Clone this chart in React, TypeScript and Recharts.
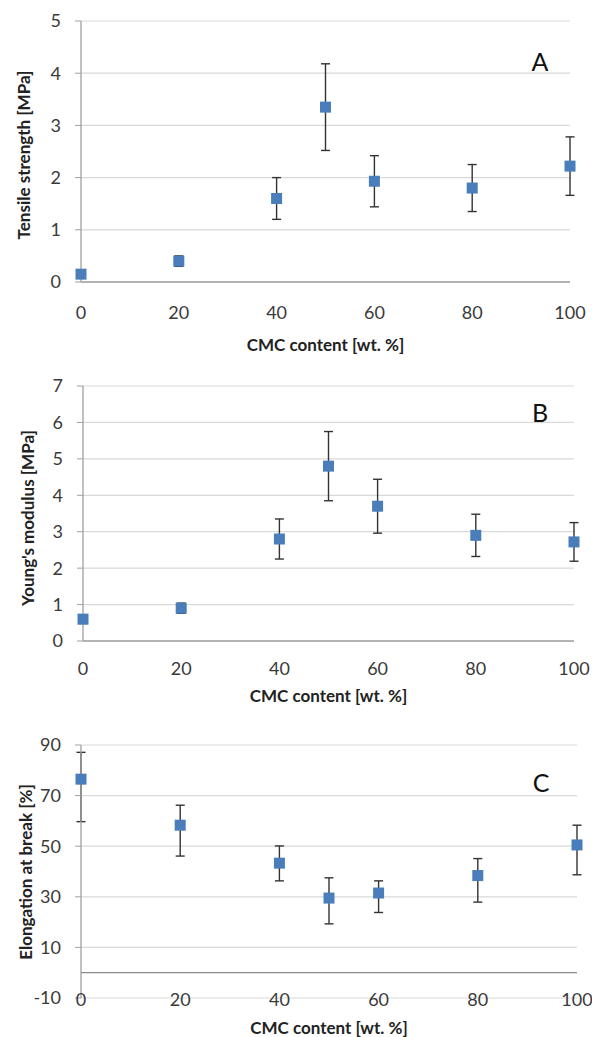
import {
  ScatterChart,
  Scatter,
  XAxis,
  YAxis,
  CartesianGrid,
  ErrorBar,
  ReferenceLine,
  Label,
} from 'recharts'

// CMC content of the films [wt. %]
const cmcContent = [0, 20, 40, 50, 60, 80, 100]
const xTicks = [0, 20, 40, 60, 80, 100]

// A - tensile strength [MPa]
const tensileStrength = [0.15, 0.4, 1.6, 3.35, 1.93, 1.8, 2.22]
const tensileError = [0.06, 0.1, 0.4, 0.83, 0.49, 0.45, 0.56]
const tensileTicks = [0, 1, 2, 3, 4, 5]

// B - Young's modulus [MPa]
const youngsModulus = [0.6, 0.9, 2.8, 4.8, 3.7, 2.9, 2.72]
const youngsError = [0.12, 0.14, 0.55, 0.95, 0.74, 0.58, 0.53]
const youngsTicks = [0, 1, 2, 3, 4, 5, 6, 7]

// C - elongation at break [%], error bars are not symmetric
const elongation = [76.5, 58.3, 43.3, 29.5, 31.5, 38.4, 50.5]
const elongationErrLow = [16.8, 12.2, 7, 10.2, 7.7, 10.5, 11.8]
const elongationErrHigh = [10.6, 7.9, 6.8, 8, 4.8, 6.7, 7.8]
const elongationTicks = [-10, 10, 30, 50, 70, 90]

const FONT = 'Lato, "Open Sans", sans-serif'
const BLUE = '#4a7ebb'
const AXIS = '#a0a0a0'

type Point = { x: number; y: number; err: number | number[] }

const Square = (props: any) => {
  const { cx, cy } = props
  if (cx == null || cy == null) return null
  return <rect x={cx - 5.5} y={cy - 5.5} width={11} height={11} fill={BLUE} />
}

const makeXTick = (dy: number) => (props: any) => (
  <text
    x={props.x}
    y={props.y + dy}
    textAnchor="middle"
    dominantBaseline="central"
    fill="#3a3a3a"
    fontSize={18}
    fontFamily={FONT}
  >
    {props.payload.value}
  </text>
)

interface PanelProps {
  top: number
  height: number
  plotTop: number
  plotLeft: number
  plotRight: number
  xAxisHeight: number
  points: Point[]
  yDomain: [number, number]
  yTicks: number[]
  yTitle: string
  yTitleX: number
  yTitleY: number
  xTickDy: number
  xTitleDy: number
  letter: string
  letterX: number
  letterY: number
  zeroLine?: boolean
}

function Panel(p: PanelProps) {
  return (
    <div style={{ position: 'absolute', left: 0, top: p.top }}>
      <ScatterChart
        width={592}
        height={p.height}
        margin={{ top: p.plotTop, right: 592 - p.plotRight, left: 0, bottom: 0 }}
      >
        <CartesianGrid vertical={false} stroke="#d9d9d9" strokeWidth={1.2} />
        <XAxis
          type="number"
          dataKey="x"
          domain={[0, 100]}
          ticks={xTicks}
          height={p.xAxisHeight}
          axisLine={p.zeroLine ? false : { stroke: AXIS, strokeWidth: 1.3 }}
          tickLine={false}
          tickSize={0}
          tickMargin={0}
          tick={makeXTick(p.xTickDy)}
          interval={0}
        >
          <Label
            content={(lp: any) => {
              const vb = lp.viewBox || {}
              return (
                <text
                  x={vb.x + vb.width / 2}
                  y={vb.y + p.xTitleDy}
                  textAnchor="middle"
                  dominantBaseline="central"
                  fontSize={17}
                  fontWeight="bold"
                  fill="#222"
                  fontFamily={FONT}
                >
                  CMC content [wt. %]
                </text>
              )
            }}
          />
        </XAxis>
        <YAxis
          type="number"
          dataKey="y"
          domain={p.yDomain}
          ticks={p.yTicks}
          width={p.plotLeft}
          interval={0}
          axisLine={{ stroke: AXIS, strokeWidth: 1.3 }}
          tickLine={{ stroke: AXIS }}
          tickSize={6}
          tickMargin={14}
          tick={{ fill: '#3a3a3a', fontSize: 18, fontFamily: FONT }}
          allowDataOverflow
        >
          <Label
            content={() => (
              <text
                x={p.yTitleX}
                y={p.yTitleY}
                transform={`rotate(-90, ${p.yTitleX}, ${p.yTitleY})`}
                textAnchor="middle"
                dominantBaseline="central"
                fontSize={17}
                fontWeight="bold"
                fill="#222"
                fontFamily={FONT}
              >
                {p.yTitle}
              </text>
            )}
          />
        </YAxis>
        {p.zeroLine && <ReferenceLine y={0} stroke="#8c8c8c" strokeWidth={1.3} />}
        <Scatter data={p.points} shape={Square} isAnimationActive={false}>
          <ErrorBar dataKey="err" direction="y" width={4.5} stroke="#333" strokeWidth={1.4} />
        </Scatter>
        <text
          x={p.letterX}
          y={p.letterY}
          textAnchor="middle"
          dominantBaseline="central"
          fontSize={25}
          fill="#111"
          fontFamily={FONT}
        >
          {p.letter}
        </text>
      </ScatterChart>
    </div>
  )
}

const tensilePoints: Point[] = cmcContent.map((x, i) => ({ x, y: tensileStrength[i], err: tensileError[i] }))
const youngsPoints: Point[] = cmcContent.map((x, i) => ({ x, y: youngsModulus[i], err: youngsError[i] }))
const elongationPoints: Point[] = cmcContent.map((x, i) => ({
  x,
  y: elongation[i],
  err: [elongationErrLow[i], elongationErrHigh[i]],
}))

export default function App() {
  return (
    <div style={{ position: 'absolute', left: 0, top: 0, width: 592, height: 1037, background: '#fff' }}>
      <Panel
        top={0}
        height={360}
        plotTop={21}
        plotLeft={81}
        plotRight={570}
        xAxisHeight={78}
        points={tensilePoints}
        yDomain={[0, 5]}
        yTicks={tensileTicks}
        yTitle="Tensile strength [MPa]"
        yTitleX={23}
        yTitleY={155}
        xTickDy={30}
        xTitleDy={62}
        letter="A"
        letterX={540}
        letterY={61}
      />
      <Panel
        top={360}
        height={345}
        plotTop={26}
        plotLeft={83}
        plotRight={574}
        xAxisHeight={64}
        points={youngsPoints}
        yDomain={[0, 7]}
        yTicks={youngsTicks}
        yTitle="Young's modulus [MPa]"
        yTitleX={27}
        yTitleY={158}
        xTickDy={27}
        xTitleDy={54}
        letter="B"
        letterX={540}
        letterY={52}
      />
      <Panel
        top={705}
        height={332}
        plotTop={40}
        plotLeft={81}
        plotRight={577}
        xAxisHeight={39}
        points={elongationPoints}
        yDomain={[-10, 90]}
        yTicks={elongationTicks}
        yTitle="Elongation at break [%]"
        yTitleX={25}
        yTitleY={167}
        xTickDy={1}
        xTitleDy={29}
        letter="C"
        letterX={541}
        letterY={77}
        zeroLine
      />
    </div>
  )
}
